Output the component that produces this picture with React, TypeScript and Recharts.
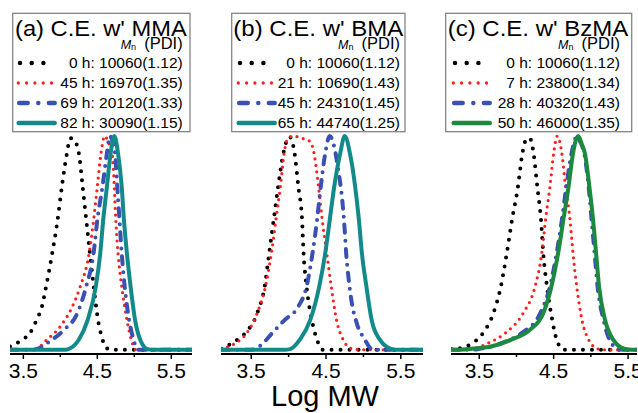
import { Line, LineChart, XAxis, YAxis } from "recharts";

type Pt = [number, number];

const ticks = [3.5, 4, 4.5, 5, 5.5];
const majorTicks = [3.5, 4.5, 5.5];

// (a) chain extension with MMA
const mma0h: Pt[] = [[3.32, 0.015], [3.38, 0.025], [3.49, 0.047], [3.59, 0.078], [3.68, 0.14], [3.75, 0.2], [3.81, 0.3], [3.89, 0.45], [3.96, 0.6], [4.02, 0.76], [4.08, 0.9], [4.14, 0.99], [4.18, 0.985], [4.25, 0.92], [4.3, 0.77], [4.35, 0.61], [4.4, 0.45], [4.45, 0.3], [4.5, 0.16], [4.56, 0.06], [4.62, 0.01], [4.68, 0], [5.78, 0]];
const mma45h: Pt[] = [[3.32, 0], [3.6, 0], [3.68, 0.005], [3.82, 0.047], [4.0, 0.109], [4.16, 0.2], [4.27, 0.296], [4.39, 0.452], [4.45, 0.607], [4.5, 0.763], [4.55, 0.919], [4.6, 1.0], [4.65, 0.97], [4.7, 0.919], [4.73, 0.763], [4.75, 0.607], [4.78, 0.452], [4.83, 0.296], [4.9, 0.14], [4.96, 0.047], [5.02, 0], [5.78, 0]];
const mma69h: Pt[] = [[3.32, 0], [3.62, 0], [3.68, 0.003], [3.82, 0.031], [4.05, 0.093], [4.23, 0.171], [4.35, 0.296], [4.45, 0.452], [4.5, 0.607], [4.57, 0.763], [4.63, 0.919], [4.67, 1.0], [4.71, 0.97], [4.74, 0.919], [4.77, 0.763], [4.8, 0.607], [4.83, 0.452], [4.87, 0.296], [4.93, 0.14], [4.99, 0.047], [5.05, 0], [5.78, 0]];
const mma82h: Pt[] = [[3.32, 0], [4.08, 0], [4.11, 0.003], [4.25, 0.047], [4.37, 0.14], [4.48, 0.296], [4.54, 0.452], [4.58, 0.607], [4.63, 0.763], [4.68, 0.919], [4.73, 1.0], [4.78, 0.919], [4.83, 0.763], [4.86, 0.607], [4.9, 0.452], [4.95, 0.296], [5.01, 0.14], [5.08, 0.047], [5.18, 0.003], [5.25, 0], [5.78, 0]];
const mmaLabels = ["0 h: 10060(1.12)", "45 h: 16970(1.35)", "69 h: 20120(1.33)", "82 h: 30090(1.15)"];

// (b) chain extension with BMA
const bma0h: Pt[] = [[3.1, 0.005], [3.13, 0.008], [3.24, 0.031], [3.42, 0.078], [3.58, 0.171], [3.68, 0.296], [3.74, 0.452], [3.8, 0.607], [3.86, 0.763], [3.93, 0.919], [4.01, 0.997], [4.08, 0.919], [4.13, 0.763], [4.18, 0.607], [4.2, 0.452], [4.24, 0.296], [4.31, 0.14], [4.38, 0.047], [4.46, 0], [5.8, 0]];
const bma21h: Pt[] = [[3.1, 0.005], [3.29, 0.031], [3.44, 0.078], [3.58, 0.171], [3.69, 0.296], [3.77, 0.452], [3.83, 0.607], [3.89, 0.763], [3.94, 0.919], [3.98, 0.981], [4.06, 1.0], [4.18, 0.989], [4.29, 0.974], [4.34, 0.919], [4.4, 0.763], [4.45, 0.607], [4.51, 0.452], [4.57, 0.296], [4.64, 0.14], [4.73, 0.047], [4.82, 0.008], [4.89, 0.003], [4.95, 0], [5.8, 0]];
const bma45h: Pt[] = [[3.1, 0], [3.5, 0], [3.55, 0.003], [3.66, 0.031], [3.78, 0.078], [3.95, 0.14], [4.13, 0.202], [4.24, 0.296], [4.32, 0.452], [4.38, 0.607], [4.43, 0.763], [4.49, 0.919], [4.55, 1.0], [4.61, 0.95], [4.66, 0.85], [4.72, 0.69], [4.75, 0.56], [4.77, 0.45], [4.8, 0.34], [4.84, 0.23], [4.91, 0.125], [5.02, 0.047], [5.11, 0.003], [5.17, 0], [5.8, 0]];
const bma65h: Pt[] = [[3.1, 0], [3.95, 0], [4.02, 0.003], [4.15, 0.047], [4.29, 0.14], [4.41, 0.296], [4.49, 0.452], [4.55, 0.607], [4.61, 0.763], [4.69, 0.919], [4.75, 1.0], [4.82, 0.919], [4.89, 0.763], [4.94, 0.607], [4.98, 0.452], [5.04, 0.296], [5.11, 0.14], [5.22, 0.047], [5.38, 0.003], [5.45, 0], [5.8, 0]];
const bmaLabels = ["0 h: 10060(1.12)", "21 h: 10690(1.43)", "45 h: 24310(1.45)", "65 h: 44740(1.25)"];

// (c) chain extension with BzMA
const bzma0h: Pt[] = [[3.12, 0.003], [3.26, 0.008], [3.37, 0.023], [3.55, 0.078], [3.69, 0.171], [3.79, 0.296], [3.87, 0.452], [3.94, 0.607], [4.02, 0.763], [4.08, 0.919], [4.14, 0.989], [4.18, 0.989], [4.23, 0.919], [4.28, 0.763], [4.33, 0.607], [4.36, 0.452], [4.41, 0.296], [4.48, 0.14], [4.54, 0.047], [4.63, 0], [5.62, 0]];
const bzma7h: Pt[] = [[3.12, 0], [3.3, 0], [3.4, 0.003], [3.62, 0.031], [3.85, 0.078], [4.09, 0.171], [4.25, 0.296], [4.34, 0.452], [4.39, 0.607], [4.45, 0.763], [4.5, 0.919], [4.55, 1.0], [4.61, 0.919], [4.66, 0.763], [4.72, 0.607], [4.76, 0.452], [4.81, 0.296], [4.88, 0.14], [4.97, 0.047], [5.1, 0.003], [5.16, 0], [5.62, 0]];
const bzma28h: Pt[] = [[3.12, 0], [3.4, 0], [3.49, 0.003], [3.8, 0.031], [4.07, 0.078], [4.32, 0.171], [4.45, 0.296], [4.54, 0.452], [4.61, 0.607], [4.67, 0.763], [4.74, 0.919], [4.81, 0.997], [4.86, 0.97], [4.91, 0.919], [4.97, 0.763], [5.01, 0.607], [5.05, 0.452], [5.09, 0.296], [5.17, 0.14], [5.25, 0.047], [5.37, 0.003], [5.43, 0], [5.62, 0]];
const bzma50h: Pt[] = [[3.12, 0], [3.25, 0], [3.35, 0.003], [3.67, 0.016], [3.93, 0.047], [4.18, 0.093], [4.36, 0.171], [4.47, 0.296], [4.56, 0.452], [4.63, 0.607], [4.7, 0.763], [4.76, 0.919], [4.83, 1.0], [4.88, 0.96], [4.92, 0.919], [4.98, 0.763], [5.03, 0.607], [5.07, 0.452], [5.11, 0.296], [5.19, 0.14], [5.3, 0.047], [5.46, 0.003], [5.55, 0], [5.62, 0]];
const bzmaLabels = ["0 h: 10060(1.12)", "7 h: 23800(1.34)", "28 h: 40320(1.43)", "50 h: 46000(1.35)"];

const FONT = "'Liberation Sans', Arial, Helvetica, sans-serif";
const TEAL = "#138a8a";
const GREEN = "#1b8a3e";

const seriesStyle = [
  { stroke: "#000000", strokeWidth: 4, dash: "0 9" },
  { stroke: "#ff1f1f", strokeWidth: 3.2, dash: "0 6.5" },
  { stroke: "#3a50b2", strokeWidth: 4, dash: "8 8 0 8" },
  { stroke: TEAL, strokeWidth: 4, dash: undefined as string | undefined },
];

const panels = [
  {
    left: 0, width: 215, margin: { top: 136, right: 23, bottom: 0, left: 10 }, domain: [3.32, 5.78],
    curves: [mma0h, mma45h, mma69h, mma82h], last: TEAL, labels: mmaLabels,
    title: "(a) C.E. w' MMA", titleX: 15, titleW: 171.7,
    box: { x: 12.7, w: 177.3 }, sampleX: 16.7, textRight: 182.7,
  },
  {
    left: 215, width: 215, margin: { top: 136, right: 7, bottom: 0, left: 6 }, domain: [3.096, 5.797],
    curves: [bma0h, bma21h, bma45h, bma65h], last: TEAL, labels: bmaLabels,
    title: "(b) C.E. w' BMA", titleX: 233.3, titleW: 170,
    box: { x: 231.7, w: 173.3 }, sampleX: 236.7, textRight: 400,
  },
  {
    left: 430, width: 208, margin: { top: 136, right: 1, bottom: 0, left: 21 }, domain: [3.12, 5.62],
    curves: [bzma0h, bzma7h, bzma28h, bzma50h], last: GREEN, labels: bzmaLabels,
    title: "(c) C.E. w' BzMA", titleX: 447.7, titleW: 180.6,
    box: { x: 445.7, w: 186 }, sampleX: 451.7, textRight: 620,
  },
];

function AxisTick(props: any) {
  const { x, y, payload } = props;
  const v = payload.value as number;
  const major = majorTicks.includes(v);
  return (
    <g>
      <line x1={x} x2={x} y1={y} y2={y + (major ? 5 : 3)} stroke="#000" strokeWidth={1.5} />
      {major && (
        <text x={x} y={y + 24} textAnchor="middle" fontSize={21} fontFamily={FONT} fill="#000">
          {v.toFixed(1)}
        </text>
      )}
    </g>
  );
}

function Panel({ p }: { p: (typeof panels)[number] }) {
  return (
    <div style={{ position: "absolute", left: p.left, top: 0 }}>
      <LineChart width={p.width} height={413} margin={p.margin}>
        <XAxis
          type="number"
          dataKey="x"
          domain={p.domain}
          allowDataOverflow
          ticks={ticks}
          interval={0}
          height={59}
          tickSize={0}
          tickMargin={0}
          tick={<AxisTick />}
          axisLine={{ stroke: "#000", strokeWidth: 2 }}
          tickLine={false}
        />
        <YAxis hide domain={[-0.02, 1]} type="number" />
        {p.curves.map((c, i) => {
          const s = seriesStyle[i];
          return (
            <Line
              key={i}
              data={c.map(([x, y]) => ({ x, y }))}
              dataKey="y"
              type="monotone"
              stroke={i === 3 ? p.last : s.stroke}
              strokeWidth={s.strokeWidth}
              strokeDasharray={s.dash}
              strokeLinecap="round"
              dot={false}
              activeDot={false}
              isAnimationActive={false}
            />
          );
        })}
      </LineChart>
    </div>
  );
}

function Legends() {
  const baselines = [68.3, 88.3, 108.3, 128.3];
  return (
    <svg width={638} height={413} style={{ position: "absolute", left: 0, top: 0, pointerEvents: "none" }}>
      {panels.map((p, k) => {
        const s = p.sampleX;
        const ys = baselines.map((b) => b - 5.3);
        return (
          <g key={k} fontFamily={FONT} fill="#000">
            <rect x={p.box.x} y={13.3} width={p.box.w} height={118.4} fill="#fff" stroke="#858585" strokeWidth={1.3} />
            <text x={p.titleX} y={36} fontSize={22} textLength={p.titleW} lengthAdjust="spacingAndGlyphs">
              {p.title}
            </text>
            <text x={p.textRight - 62} y={48.5}>
              <tspan fontSize={12.5} fontStyle="italic">M</tspan>
              <tspan fontSize={9} dy={1}>n</tspan>
            </text>
            <text x={p.textRight} y={49.3} fontSize={16.5} textAnchor="end">(PDI)</text>
            {p.labels.map((l, i) => (
              <text key={i} x={p.textRight} y={baselines[i]} fontSize={15.5} textAnchor="end">{l}</text>
            ))}
            <line x1={s + 3.3} x2={s + 27} y1={ys[0]} y2={ys[0]} stroke="#000" strokeWidth={4.5} strokeDasharray="0 11.7" strokeLinecap="round" />
            <line x1={s + 1.6} x2={s + 35} y1={ys[1]} y2={ys[1]} stroke={seriesStyle[1].stroke} strokeWidth={3.3} strokeDasharray="0 8.3" strokeLinecap="round" />
            <line x1={s + 2.5} x2={s + 38} y1={ys[2]} y2={ys[2]} stroke={seriesStyle[2].stroke} strokeWidth={4.5} strokeDasharray="8.5 10.6 0 10.6" strokeLinecap="round" />
            <line x1={s + 2} x2={s + 38} y1={ys[3]} y2={ys[3]} stroke={p.last} strokeWidth={4.5} strokeLinecap="round" />
          </g>
        );
      })}
      <text x={325} y={406} fontSize={29} textAnchor="middle" fontFamily={FONT} fill="#000">
        Log MW
      </text>
    </svg>
  );
}

export default function App() {
  return (
    <div style={{ position: "absolute", left: 0, top: 0, width: 638, height: 413, background: "#fff", overflow: "hidden" }}>
      {panels.map((p, k) => (
        <Panel key={k} p={p} />
      ))}
      <Legends />
    </div>
  );
}
